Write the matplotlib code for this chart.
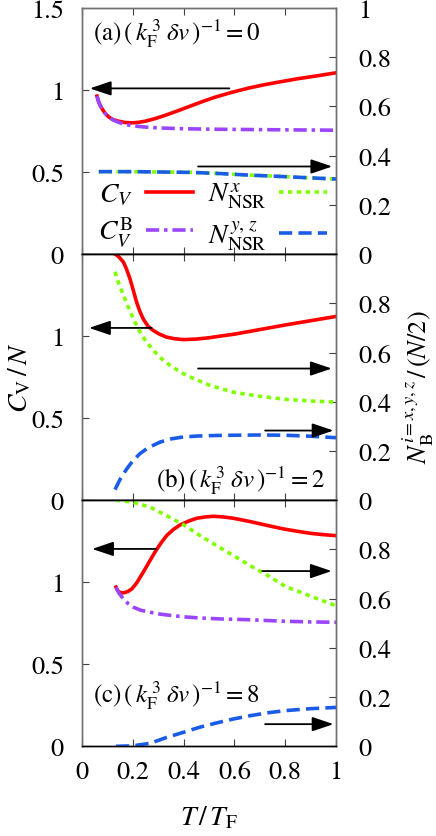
import matplotlib
matplotlib.use("Agg")
import matplotlib.pyplot as plt

plt.rcParams['font.family'] = ['STIXGeneral', 'Liberation Serif', 'DejaVu Serif']
plt.rcParams['mathtext.fontset'] = 'stix'
plt.rcParams['lines.scale_dashes'] = False

# ---------------- data ----------------
# panel (a)
a_cv_T = [0.059, 0.065, 0.072, 0.079, 0.09, 0.105, 0.122, 0.144, 0.17, 0.197, 0.222, 0.249,
          0.288, 0.328, 0.38, 0.433, 0.48, 0.525, 0.59, 0.656, 0.72, 0.787, 0.85, 0.919, 1.0]
a_cv   = [0.963, 0.93, 0.905, 0.886, 0.86, 0.836, 0.82, 0.81, 0.802, 0.800, 0.803, 0.810,
          0.826, 0.846, 0.875, 0.906, 0.933, 0.957, 0.986, 1.012, 1.033, 1.052, 1.069, 1.085, 1.105]
a_cvb_T = [0.059, 0.065, 0.072, 0.079, 0.09, 0.105, 0.122, 0.144, 0.17, 0.197, 0.223, 0.26,
           0.302, 0.4, 0.525, 0.75, 1.0]
a_cvb   = [0.963, 0.93, 0.905, 0.886, 0.86, 0.836, 0.818, 0.803, 0.79, 0.783, 0.778, 0.773,
           0.769, 0.764, 0.761, 0.758, 0.755]
a_n_T = [0.066, 0.2, 0.433, 0.55, 0.656, 0.75, 0.853, 1.0]
a_nx  = [0.335, 0.335, 0.332, 0.327, 0.321, 0.317, 0.312, 0.305]
a_nyz = [0.335, 0.335, 0.332, 0.327, 0.321, 0.317, 0.312, 0.305]

# panel (b)
b_cv_T = [0.13, 0.14, 0.15, 0.163, 0.175, 0.189, 0.2, 0.215, 0.228, 0.241, 0.26, 0.281, 0.305,
          0.333, 0.365, 0.399, 0.45, 0.5, 0.543, 0.6, 0.7, 0.8, 0.9, 1.0]
b_cv   = [1.50, 1.49, 1.475, 1.451, 1.41, 1.349, 1.29, 1.207, 1.15, 1.105, 1.06, 1.034, 1.012,
          0.994, 0.984, 0.979, 0.982, 0.99, 1.0, 1.012, 1.04, 1.068, 1.094, 1.12]
b_nx_T = [0.13, 0.145, 0.163, 0.18, 0.196, 0.212, 0.228, 0.25, 0.281, 0.31, 0.346, 0.38, 0.41,
          0.45, 0.5, 0.55, 0.6, 0.7, 0.8, 0.9, 1.0]
b_nx   = [0.928, 0.88, 0.833, 0.79, 0.752, 0.716, 0.684, 0.648, 0.609, 0.578, 0.548, 0.526, 0.508,
          0.49, 0.468, 0.452, 0.438, 0.422, 0.41, 0.403, 0.399]
b_nyz_T = [0.13, 0.15, 0.176, 0.2, 0.228, 0.26, 0.307, 0.35, 0.399, 0.46, 0.53, 0.6, 0.7, 0.8,
           0.9, 1.0]
b_nyz   = [0.043, 0.085, 0.127, 0.16, 0.189, 0.213, 0.236, 0.249, 0.257, 0.261, 0.263, 0.264,
           0.265, 0.264, 0.26, 0.254]

# panel (c)
c_cv_T = [0.134, 0.14, 0.15, 0.163, 0.18, 0.196, 0.215, 0.241, 0.265, 0.287, 0.31, 0.333, 0.36,
          0.386, 0.42, 0.452, 0.485, 0.517, 0.555, 0.596, 0.661, 0.73, 0.793, 0.85, 0.9, 0.95, 1.0]
c_cv   = [0.97, 0.95, 0.937, 0.935, 0.943, 0.959, 0.995, 1.061, 1.125, 1.183, 1.237, 1.284, 1.322,
          1.349, 1.373, 1.39, 1.398, 1.402, 1.398, 1.39, 1.37, 1.346, 1.325, 1.31, 1.298, 1.29, 1.284]
c_cvb_T = [0.134, 0.145, 0.163, 0.18, 0.202, 0.23, 0.268, 0.31, 0.36, 0.41, 0.465, 0.55, 0.648,
           0.8, 0.9, 1.0]
c_cvb   = [0.97, 0.935, 0.898, 0.872, 0.848, 0.83, 0.817, 0.805, 0.796, 0.788, 0.782, 0.776, 0.772,
           0.762, 0.758, 0.756]
c_n_T = [0.134, 0.2, 0.268, 0.333, 0.4, 0.465, 0.53, 0.596, 0.66, 0.73, 0.8, 0.9, 1.0]
c_nx  = [1.0, 0.992, 0.972, 0.937, 0.90, 0.856, 0.815, 0.775, 0.735, 0.695, 0.65, 0.61, 0.571]
c_nyz = [0.0, 0.002, 0.012, 0.036, 0.057, 0.078, 0.095, 0.111, 0.124, 0.136, 0.145, 0.153, 0.158]

# arrows: (x_start, x_end, y) ; left arrows on C_V axis, right arrows on N axis
a_left_arrows = [(0.58, 0.031, 1.01)]
a_right_arrows = [(0.457, 0.985, 0.356)]
b_left_arrows = [(0.274, 0.028, 1.05)]
b_right_arrows = [(0.457, 0.983, 0.535), (0.721, 0.99, 0.283)]
c_left_arrows = [(0.291, 0.04, 1.203)]
c_right_arrows = [(0.71, 0.983, 0.712), (0.721, 0.99, 0.09)]

panel_labels = [r'(a)$\,(\,k_{\rm F}^{\,3}\;\delta v\,)^{-1}=0$',
                r'(b)$\,(\,k_{\rm F}^{\,3}\;\delta v\,)^{-1}=2$',
                r'(c)$\,(\,k_{\rm F}^{\,3}\;\delta v\,)^{-1}=8$']

x_ticks = [0, 0.2, 0.4, 0.6, 0.8, 1.0]
x_ticklabels = ['0', '0.2', '0.4', '0.6', '0.8', '1']

# ---------------- style ----------------
RED = '#ff0000'
PURPLE = '#9b45ff'
GREEN = '#80ff00'
BLUE = '#1a5ce8'
LW = 2.6
cv_style = dict(color=RED, lw=LW, ls='-')
cvb_style = dict(color=PURPLE, lw=LW, ls=(0, (9.5, 3.5, 2.5, 3.5)))
nx_style = dict(color=GREEN, lw=LW, ls=(0, (3.2, 3.2)))
nyz_style = dict(color=BLUE, lw=LW, ls=(0, (9.5, 4.5)))
FS = 19
GRAY = '#707070'

W, H = 436, 837
fig = plt.figure(figsize=(W / 100, H / 100), dpi=100)
left_px, right_px = 82, 336
top_px, bot_px = 9, 747.3
ph = (bot_px - top_px) / 3

axes = []
for i in range(3):
    y0 = 1 - (top_px + ph * (i + 1)) / H
    ax = fig.add_axes([left_px / W, y0, (right_px - left_px) / W, ph / H])
    ax2 = ax.twinx()
    axes.append((ax, ax2))

def style_axes(ax, ax2, i):
    ax.set_xlim(0, 1)
    ax.set_ylim(0, 1.5)
    ax2.set_ylim(0, 1)
    ax.set_xticks(x_ticks)
    ax.set_yticks([0, 0.5, 1, 1.5])
    ax2.set_yticks([0, 0.2, 0.4, 0.6, 0.8, 1.0])
    if i == 0:
        ax.set_yticklabels(['0', '0.5', '1', '1.5'])
        ax2.set_yticklabels(['0', '0.2', '0.4', '0.6', '0.8', '1'])
    else:
        ax.set_yticklabels(['0', '0.5', '1', ''])
        ax2.set_yticklabels(['0', '0.2', '0.4', '0.6', '0.8', ''])
    if i == 2:
        ax.set_xticklabels(x_ticklabels)
    else:
        ax.set_xticklabels([])
    ax.tick_params(axis='x', direction='in', top=True, bottom=True, length=5,
                   width=0.8, color='#404040', labelsize=FS, pad=10)
    ax.tick_params(axis='y', direction='in', left=True, right=False, length=5,
                   width=0.8, color='#404040', labelsize=FS, pad=13)
    ax2.tick_params(axis='y', direction='in', right=True, length=5, width=0.8,
                    color='#404040', labelsize=FS, pad=16)
    for a in (ax, ax2):
        a.spines['left'].set_color(GRAY)
        a.spines['right'].set_color(GRAY)
        a.spines['bottom'].set_color('black')
        a.spines['top'].set_color(GRAY if i == 0 else 'black')
        for s in a.spines.values():
            s.set_linewidth(1.0)

def arrows(axh, lst):
    for xs, xe, y in lst:
        axh.annotate('', xy=(xe, y), xytext=(xs, y), xycoords='data',
                     arrowprops=dict(arrowstyle='-|>,head_length=0.65,head_width=0.22',
                                     color='black', lw=1.3, mutation_scale=20,
                                     shrinkA=0, shrinkB=0))

# panel a
ax, ax2 = axes[0]
style_axes(ax, ax2, 0)
l1, = ax.plot(a_cv_T, a_cv, **cv_style, label=r'$C_V$')
l2, = ax.plot(a_cvb_T, a_cvb, **cvb_style, label=r'$C_V^{\rm B}$')
l3, = ax2.plot(a_n_T, a_nx, **nx_style, label=r'$N_{\rm NSR}^{x}$')
l4, = ax2.plot(a_n_T, a_nyz, **nyz_style, label=r'$N_{\rm NSR}^{y,\,z}$')
arrows(ax, a_left_arrows)
arrows(ax2, a_right_arrows)
ax2.text(0.042, 0.903, panel_labels[0], transform=ax2.transAxes, fontsize=18,
         ha='left', va='center')
ax2.legend([l1, l2, l3, l4], [l.get_label() for l in (l1, l2, l3, l4)], ncol=2,
           markerfirst=False, frameon=False, fontsize=20, loc='lower left',
           bbox_to_anchor=(0.02, -0.04), handlelength=1.7, handletextpad=0.45,
           columnspacing=0.55, labelspacing=0.25, borderaxespad=0)

# panel b
ax, ax2 = axes[1]
style_axes(ax, ax2, 1)
ax.plot(b_cv_T, b_cv, **cv_style)
ax2.plot(b_nx_T, b_nx, **nx_style)
ax2.plot(b_nyz_T, b_nyz, **nyz_style)
arrows(ax, b_left_arrows)
arrows(ax2, b_right_arrows)
ax2.text(0.957, 0.087, panel_labels[1], transform=ax2.transAxes, fontsize=18,
         ha='right', va='center')

# panel c
ax, ax2 = axes[2]
style_axes(ax, ax2, 2)
ax.plot(c_cv_T, c_cv, **cv_style)
ax.plot(c_cvb_T, c_cvb, **cvb_style)
ax2.plot(c_n_T, c_nx, **nx_style)
ax2.plot(c_n_T, c_nyz, **nyz_style)
arrows(ax, c_left_arrows)
arrows(ax2, c_right_arrows)
ax2.text(0.042, 0.213, panel_labels[2], transform=ax2.transAxes, fontsize=18,
         ha='left', va='center')
ax.set_xlabel(r'$T\,/\,T_{\rm F}$', fontsize=20, labelpad=14)

fig.text(20 / W, 1 - 378 / H, r'$C_{\rm V}\,/\,N$', rotation=90, fontsize=20,
         ha='center', va='center')
fig.text(418 / W, 1 - 387 / H, r'$N_{\rm B}^{i=x,y,z}\,/\,(N/2)$', rotation=90,
         fontsize=19, ha='center', va='center')

fig.savefig('out.png', dpi=100)
